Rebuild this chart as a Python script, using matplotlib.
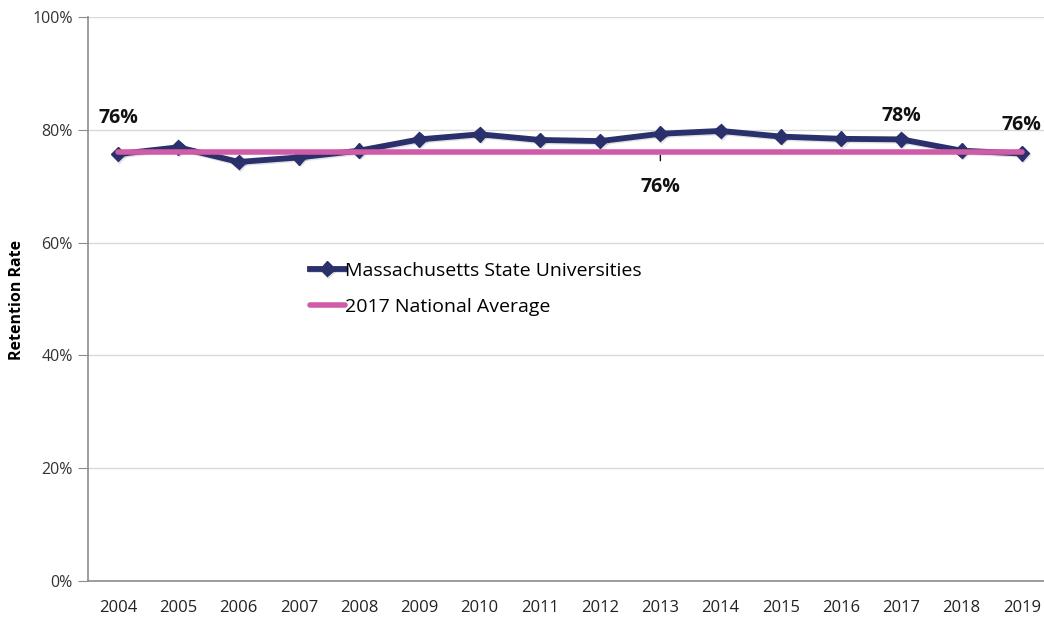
import matplotlib
matplotlib.use("Agg")
import matplotlib.pyplot as plt
import matplotlib.patheffects as pe
from matplotlib.ticker import FuncFormatter

years = ["2004", "2005", "2006", "2007", "2008", "2009", "2010", "2011",
         "2012", "2013", "2014", "2015", "2016", "2017", "2018", "2019"]
mass_state = [75.7, 76.9, 74.3, 75.1, 76.3, 78.3, 79.2, 78.2,
              78.0, 79.3, 79.8, 78.8, 78.4, 78.3, 76.3, 75.8]
national_avg = [76.0] * len(years)

navy = "#2a306b"
pink = "#d05ba6"

plt.rcParams["font.family"] = ["Open Sans", "DejaVu Sans"]

fig = plt.figure(figsize=(10.44, 6.19), dpi=100)
ax = fig.add_axes([88 / 1044, 1 - 581 / 619, (1052 - 88) / 1044, (581 - 17) / 619])

x = list(range(len(years)))
shadow = [pe.SimpleLineShadow(offset=(0.8, -1), alpha=0.12), pe.Normal()]
ax.plot(x, mass_state, color=navy, lw=4.2, marker="D", markersize=7.5,
        label="Massachusetts State Universities", zorder=3, path_effects=shadow)
ax.plot(x, national_avg, color=pink, lw=4.0, solid_capstyle="round",
        label="2017 National Average", zorder=4)

ax.set_xlim(-0.5, 15.5)
ax.set_ylim(0, 100)
ax.set_yticks(range(0, 101, 20))
ax.yaxis.set_major_formatter(FuncFormatter(lambda v, p: f"{v:.0f}%"))
ax.set_xticks(x, years)
ax.grid(axis="y", color="#d9d9d9", lw=1)
ax.set_axisbelow(True)
for s in ["top", "right"]:
    ax.spines[s].set_visible(False)
for s in ["left", "bottom"]:
    ax.spines[s].set_color("#8c8c8c")
    ax.spines[s].set_linewidth(1.2)
ax.tick_params(axis="y", length=7, color="#8c8c8c", labelsize=11.5, labelcolor="#333333", pad=4)
ax.tick_params(axis="x", length=0, labelsize=12, labelcolor="#222222", pad=14)
ax.set_ylabel("Retention Rate", fontsize=11.5, fontweight="bold")
ax.yaxis.set_label_coords(-0.065, 0.498)

# data labels
lbl = dict(fontsize=14, fontweight="bold", ha="center", va="center", color="#111111")
ax.text(0, mass_state[0] + 6.4, f"{mass_state[0]:.0f}%", **lbl)
ax.text(13, mass_state[13] + 4.2, f"{mass_state[13]:.0f}%", **lbl)
ax.text(15, mass_state[15] + 5.1, f"{mass_state[15]:.0f}%", **lbl)
ax.annotate(f"{national_avg[9]:.0f}%", xy=(9, national_avg[9]), xytext=(9, national_avg[9] - 6.2),
            arrowprops=dict(arrowstyle="-", color="#111111", lw=1, shrinkA=10, shrinkB=2), **lbl)

ax.legend(loc="upper left", bbox_to_anchor=(0.222, 0.58), frameon=False, fontsize=14,
          handlelength=1.8, handletextpad=0.0, labelspacing=0.95, borderaxespad=0)

fig.savefig("out.png", dpi=100)
